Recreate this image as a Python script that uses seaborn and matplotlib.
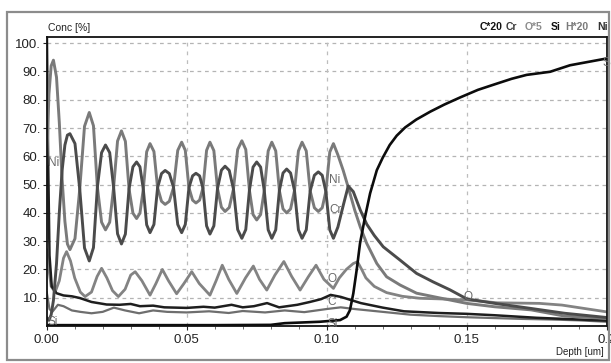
import matplotlib
matplotlib.use("Agg")
import matplotlib.pyplot as plt
import matplotlib.patches as mpatches
from matplotlib.ticker import MultipleLocator, FixedLocator
import numpy as np
import pandas as pd
import seaborn as sns

# ---------------- data ----------------
ni_depth = [0.0000, 0.0008, 0.0016, 0.0024, 0.0035, 0.0045, 0.0055, 0.0065, 0.0074, 0.0083,
            0.0101, 0.0118, 0.0135, 0.0152, 0.0167, 0.0181, 0.0196, 0.0210, 0.0225, 0.0239,
            0.0253, 0.0267, 0.0281, 0.0294, 0.0308, 0.0321, 0.0333, 0.0345, 0.0357, 0.0369,
            0.0383, 0.0396, 0.0410, 0.0423, 0.0438, 0.0453, 0.0468, 0.0482, 0.0495, 0.0508,
            0.0521, 0.0533, 0.0546, 0.0558, 0.0571, 0.0583, 0.0597, 0.0610, 0.0624, 0.0637,
            0.0652, 0.0667, 0.0682, 0.0697, 0.0711, 0.0724, 0.0737, 0.0750, 0.0764, 0.0777,
            0.0791, 0.0804, 0.0818, 0.0831, 0.0844, 0.0857, 0.0871, 0.0885, 0.0899, 0.0912,
            0.0927, 0.0941, 0.0956, 0.0970, 0.0984, 0.0997, 0.1011, 0.1024,
            0.1040, 0.1059, 0.1080, 0.1100, 0.1120, 0.1143, 0.1179, 0.1214, 0.1262, 0.1321,
            0.1400, 0.1500, 0.1600, 0.1730, 0.1850, 0.2000]
ni_conc = [57, 82, 92, 94, 88, 72, 52, 37, 29, 27,
           30.9, 48.4, 70.6, 75.5, 70.8, 49.1, 36.7, 34, 36.7, 49,
           65.4, 69, 65.3, 48.5, 39.9, 38, 39.9, 48.4, 61.6, 64.5,
           61.7, 48.9, 44.1, 43, 44.1, 49, 62.1, 65, 62.1, 48.9,
           44.5, 43.5, 44.5, 48.75, 62.1, 65, 62.0, 48.6, 42.0, 40.5,
           41.9, 48.4, 62.4, 65.5, 62.4, 48, 39.4, 37.5, 39.4, 47.9,
           61.9, 65, 61.9, 47.9, 41.4, 40, 41.4, 47.9, 61.9, 65,
           61.9, 47.75, 41.8, 40.5, 41.8, 47.6, 61.5, 64.5,
           60.5, 55, 48, 41, 35, 29.2, 22.1, 17.4, 14.5, 11.6,
           10.0, 8.0, 6.8, 5.7, 3.5, 2.7]

cr_depth = [0.0000, 0.0008, 0.0016, 0.0024, 0.0035, 0.0045, 0.0055, 0.0065, 0.0074, 0.0083,
            0.0101, 0.0118, 0.0135, 0.0152, 0.0167, 0.0181, 0.0196, 0.0210, 0.0225, 0.0239,
            0.0253, 0.0267, 0.0281, 0.0294, 0.0308, 0.0321, 0.0333, 0.0345, 0.0357, 0.0369,
            0.0383, 0.0396, 0.0410, 0.0423, 0.0438, 0.0453, 0.0468, 0.0482, 0.0495, 0.0508,
            0.0521, 0.0533, 0.0546, 0.0558, 0.0571, 0.0583, 0.0597, 0.0610, 0.0624, 0.0637,
            0.0652, 0.0667, 0.0682, 0.0697, 0.0711, 0.0724, 0.0737, 0.0750, 0.0764, 0.0777,
            0.0791, 0.0804, 0.0818, 0.0831, 0.0844, 0.0857, 0.0871, 0.0885, 0.0899, 0.0912,
            0.0927, 0.0941, 0.0956, 0.0970, 0.0984, 0.0997, 0.1011, 0.1024,
            0.1040, 0.1060, 0.1077, 0.1095, 0.1120, 0.1143, 0.1170, 0.1202, 0.1262, 0.1321,
            0.1380, 0.1440, 0.1500, 0.1600, 0.1730, 0.1850, 0.2000]
cr_conc = [3, 2, 4, 9, 22, 40, 55, 64, 67.5, 68,
           64.5, 48.4, 27.6, 23, 27.7, 49.1, 61.3, 64, 61.3, 49,
           32.6, 29, 32.5, 48.5, 56.3, 58, 56.3, 48.4, 35.8, 33,
           35.9, 48.9, 53.9, 55, 53.9, 49, 35.9, 33, 35.9, 48.9,
           53.1, 54, 53.1, 48.75, 35.4, 32.5, 35.4, 48.6, 55.1, 56.5,
           55.0, 48.4, 34.1, 31, 34.1, 48, 56.2, 58, 56.2, 47.9,
           34.0, 31, 34.0, 47.9, 54.1, 55.5, 54.1, 47.9, 34.0, 31,
           34.0, 47.75, 53.3, 54.5, 53.3, 47.6, 34.0, 31,
           35, 43, 49.5, 47.5, 41, 36, 32, 28, 23.3, 18.6,
           15.6, 12.8, 9.6, 8.0, 6.2, 4.5, 3.0]

o_depth = [0.0000, 0.0008, 0.0016, 0.0030, 0.0045, 0.0060, 0.0071, 0.0085, 0.0100, 0.0120,
           0.0137, 0.0160, 0.0180, 0.0196, 0.0215, 0.0235, 0.0256, 0.0280, 0.0300, 0.0316,
           0.0340, 0.0369, 0.0390, 0.0413, 0.0435, 0.0464, 0.0490, 0.0518, 0.0545, 0.0583,
           0.0605, 0.0627, 0.0650, 0.0679, 0.0710, 0.0738, 0.0760, 0.0786, 0.0815, 0.0847,
           0.0875, 0.0905, 0.0935, 0.0962, 0.0990, 0.1024, 0.1045, 0.1070, 0.1095, 0.1110,
           0.1125, 0.1140, 0.1170, 0.1214, 0.1270, 0.1333, 0.1400, 0.1500, 0.1610, 0.1760,
           0.1840, 0.1880, 0.2000]
o_conc = [27, 20, 14, 12, 16, 24, 26.3, 23, 17, 12,
          10.4, 12, 17.5, 20.4, 17, 12.5, 10.4, 13, 18, 19.2,
          16, 10.9, 15, 20, 16, 11.4, 15, 19.2, 15, 10.9,
          16, 21.5, 16.5, 11.5, 17, 21.2, 16.5, 12.7, 18, 22.8,
          17.5, 12.7, 17.5, 21.5, 16.5, 13.3, 17, 20, 22.1, 22.7,
          20, 17, 14, 11.8, 10.5, 9.8, 9.6, 9.2, 8.2, 8.0,
          7.4, 6.8, 5.0]

c_depth = [0.0000, 0.0005, 0.0010, 0.0018, 0.0035, 0.0060, 0.0090, 0.0118, 0.0160, 0.0214,
           0.0260, 0.0300, 0.0333, 0.0380, 0.0420, 0.0500, 0.0560, 0.0600, 0.0660, 0.0700,
           0.0740, 0.0787, 0.0830, 0.0895, 0.0940, 0.0980, 0.1014, 0.1050, 0.1122, 0.1200,
           0.1276, 0.1400, 0.1500, 0.1600, 0.1750, 0.1900, 0.2000]
c_conc = [110, 60, 25, 14, 11.6, 10.8, 10.5, 9.9, 8.5, 7.6,
          7.5, 7.8, 7.0, 7.2, 6.6, 6.4, 6.8, 6.5, 7.5, 6.6,
          7.0, 8.1, 6.6, 7.5, 8.5, 9.5, 11.0, 10.3, 8.1, 6.5,
          5.2, 4.6, 4.3, 3.8, 2.9, 2.3, 1.9]

si_depth = [0.0000, 0.0200, 0.0400, 0.0600, 0.0800, 0.0850, 0.0976, 0.1048, 0.1071, 0.1083,
            0.1095, 0.1107, 0.1119, 0.1137, 0.1155, 0.1179, 0.1200, 0.1225, 0.1250, 0.1280,
            0.1320, 0.1370, 0.1420, 0.1476, 0.1540, 0.1595, 0.1660, 0.1714, 0.1798, 0.1869,
            0.2000]
si_conc = [0.3, 0.3, 0.3, 0.3, 0.4, 1.0, 1.5, 2.1, 3.3, 5.6,
           11.5, 19.8, 29.2, 38.6, 46.9, 55.1, 59.5, 64.0, 67.3, 70.2,
           73.0, 75.8, 78.3, 80.8, 83.5, 85.3, 87.4, 88.8, 89.9, 92.2,
           94.6]

h_depth = [0.0000, 0.0010, 0.0020, 0.0040, 0.0060, 0.0090, 0.0120, 0.0160, 0.0200, 0.0240,
           0.0280, 0.0330, 0.0380, 0.0430, 0.0500, 0.0580, 0.0650, 0.0700, 0.0780, 0.0850,
           0.0920, 0.1000, 0.1050, 0.1100, 0.1200, 0.1300, 0.1400, 0.1500, 0.1600, 0.1700,
           0.1800, 0.1900, 0.2000]
h_conc = [12, 6, 5, 7.5, 7, 5.5, 5, 4.5, 5, 6.5,
          5.5, 4.5, 5.5, 5, 4.8, 5.2, 4.6, 5.3, 4.8, 5.5,
          4.9, 6.0, 6.6, 6.0, 5.0, 4.0, 3.5, 3.1, 2.8, 2.5,
          2.3, 2.0, 1.5]

y_ticks = [10, 20, 30, 40, 50, 60, 70, 80, 90, 100]
y_tick_labels = ["10.", "20.", "30.", "40.", "50.", "60.", "70.", "80.", "90.", "100."]
x_ticks = [0.00, 0.05, 0.10, 0.15, 0.20]
x_tick_labels = ["0.00", "0.05", "0.10", "0.15", "0.2"]

header_words = ["C*20", "Cr", "O*5", "Si", "H*20", "Ni"]
header_colors = ["#111111", "#3c3c3c", "#8c8c8c", "#111111", "#7a7a7a", "#333333"]
header_x_px = [480, 506, 525, 551, 565, 597]

# ---------------- style ----------------
sns.set_theme(style="white")
plt.rcParams["font.family"] = ["Liberation Sans Narrow", "Liberation Sans", "DejaVu Sans"]

W, H = 611, 363
fig = plt.figure(figsize=(W / 100, H / 100), dpi=100)
fig.patch.set_facecolor("white")

# outer frame
fig.patches.append(mpatches.Rectangle((7 / W, 1 - 360 / H), (609 - 7) / W, (360 - 12) / H,
                                      transform=fig.transFigure, fill=False,
                                      edgecolor="#8c8c8c", lw=1.6))

ax_l, ax_r = 46.7, 606.7
ax_t, ax_b = 36.7, 326.0
ax = fig.add_axes([ax_l / W, 1 - ax_b / H, (ax_r - ax_l) / W, (ax_b - ax_t) / H])
ax.set_facecolor("white")

series = [
    (h_depth, h_conc, "#6e6e6e", 1.6),
    (o_depth, o_conc, "#838383", 2.0),
    (c_depth, c_conc, "#1e1e1e", 1.8),
    (ni_depth, ni_conc, "#7a7a7a", 2.1),
    (cr_depth, cr_conc, "#4b4b4b", 2.1),
    (si_depth, si_conc, "#0c0c0c", 1.9),
]
for xd, yd, col, lw in series:
    df = pd.DataFrame({"depth": xd, "conc": yd})
    sns.lineplot(data=df, x="depth", y="conc", ax=ax, color=col, lw=lw,
                 sort=False, estimator=None)

ax.set_xlim(0, 0.2)
ax.set_ylim(0, 102.3)
ax.set_xlabel("")
ax.set_ylabel("")

ax.yaxis.set_major_locator(FixedLocator(y_ticks))
ax.set_yticklabels(y_tick_labels)
ax.xaxis.set_major_locator(FixedLocator(x_ticks))
ax.set_xticklabels(x_tick_labels)
ax.xaxis.set_minor_locator(MultipleLocator(0.01))

for t in y_ticks:
    ax.axhline(t, color="#b4b4b4", lw=0.9, ls=(0, (3, 3)), zorder=0)
for t in [0.05, 0.10, 0.15]:
    ax.axvline(t, color="#bdbdbd", lw=0.9, ls=(0, (3, 4)), zorder=0)

ax.tick_params(axis="y", which="major", direction="out", length=3, width=0.8,
               pad=1, labelsize=9.5, colors="#222222", left=True)
ax.tick_params(axis="x", which="major", direction="out", length=3, width=0.8,
               pad=3, labelsize=9.5, colors="#222222", bottom=True)
ax.tick_params(axis="x", which="minor", direction="out", length=2, width=0.6,
               colors="#555555", bottom=True)
for sp in ax.spines.values():
    sp.set_visible(True)
    sp.set_color("#111111")
    sp.set_linewidth(1.3)

# curve labels inside the plot
lab_kw = dict(fontsize=8.5, color="#6a6a6a", va="center", ha="left")
ax.text(0.1010, 51.5, "Ni", **lab_kw)
ax.text(0.1010, 41.0, "Cr", **lab_kw)
ax.text(0.1002, 16.5, "O", **lab_kw)
ax.text(0.1002, 8.6, "C", **lab_kw)
ax.text(0.1002, 0.8, "Si", **lab_kw)
ax.text(0.1490, 10.4, "O", **lab_kw)
ax.text(0.0004, 57.5, "Ni", **lab_kw)
ax.text(0.0002, 1.5, "Si", **lab_kw)
ax.text(0.1985, 93.0, "S", **lab_kw)

# texts outside the axes
fig.text(48 / W, 1 - 28 / H, "Conc [%]", fontsize=7.5, color="#222222",
         ha="left", va="center")
fig.text(604 / W, 1 - 352 / H, "Depth [um]", fontsize=7, color="#222222",
         ha="right", va="center")
for word, col, xp in zip(header_words, header_colors, header_x_px):
    fig.text(xp / W, 1 - 27 / H, word, fontsize=7.5, fontweight="bold", color=col,
             ha="left", va="center")

fig.savefig("out.png", dpi=100, facecolor="white")
